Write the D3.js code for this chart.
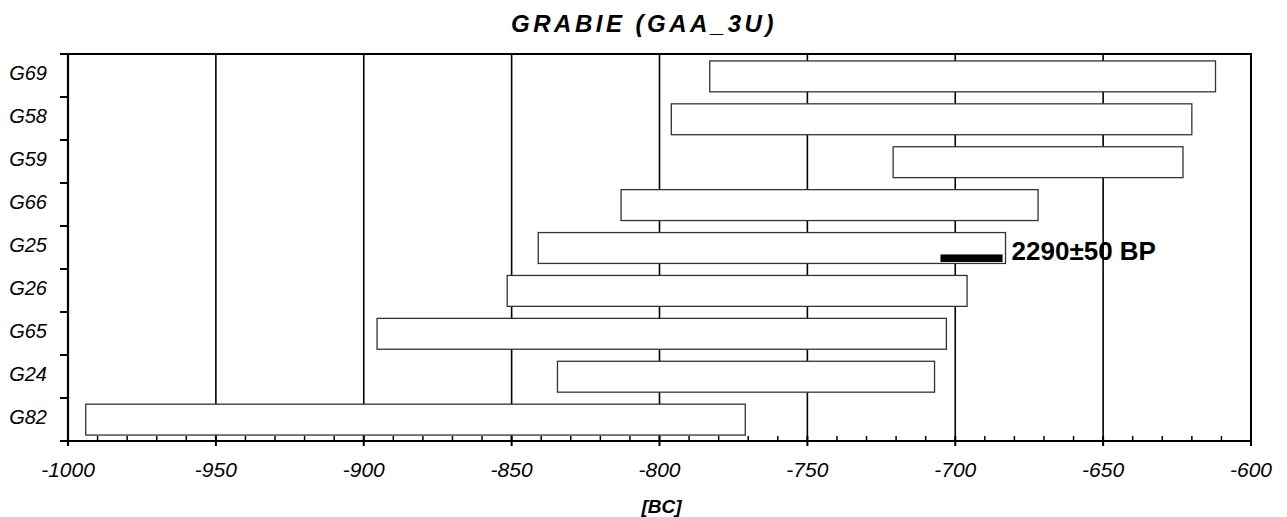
<!DOCTYPE html>
<html>
<head>
<meta charset="utf-8">
<script src="https://cdn.jsdelivr.net/npm/d3@7"></script>
<style>
  body { margin: 0; background: #fff; }
  text { font-family: Arial, "Liberation Sans", sans-serif; }
</style>
</head>
<body>
<div id="chart"></div>
<script>
// samples, top to bottom
var samples = ["G69", "G58", "G59", "G66", "G25", "G26", "G65", "G24", "G82"];
// calibrated ranges in years (BC as negative)
var rangeStart = [-783, -796, -721, -813, -841, -851.5, -895.5, -834.5, -994];
var rangeEnd   = [-612, -620, -623, -672, -683, -696, -703, -707, -771];
// the measured date marked on G25
var markSample = "G25";
var markRange = [-705, -684];
var markLabel = "2290\u00B150 BP";
var xTicks = [-1000, -950, -900, -850, -800, -750, -700, -650, -600];

var width = 1287, height = 517;
var margin = {top: 54, right: 36, bottom: 76, left: 68};

var svg = d3.select("#chart").append("svg")
    .attr("width", width)
    .attr("height", height);

var x = d3.scaleLinear()
    .domain([-1000, -600])
    .range([margin.left, width - margin.right]);

var yRow = d3.scaleBand()
    .domain(samples)
    .range([margin.top, height - margin.bottom])
    .padding(0);

var y = d3.scaleBand()
    .domain(samples)
    .range([margin.top, height - margin.bottom])
    .paddingInner(0.28)
    .paddingOuter(0.15);

var plotTop = margin.top, plotBottom = height - margin.bottom;

// vertical grid lines
svg.append("g")
    .selectAll("line")
    .data(xTicks.slice(1, -1))
    .enter().append("line")
    .attr("x1", function(d) { return x(d); })
    .attr("x2", function(d) { return x(d); })
    .attr("y1", plotTop)
    .attr("y2", plotBottom)
    .attr("stroke", "#000")
    .attr("stroke-width", 1.6);

// frame top + right
svg.append("line")
    .attr("x1", x(-1000) - 8).attr("x2", x(-600) + 1)
    .attr("y1", plotTop).attr("y2", plotTop)
    .attr("stroke", "#000").attr("stroke-width", 2);
svg.append("line")
    .attr("x1", x(-600)).attr("x2", x(-600))
    .attr("y1", plotTop).attr("y2", plotBottom)
    .attr("stroke", "#000").attr("stroke-width", 2);

// range bars
var rows = samples.map(function(s, i) { return {name: s, start: rangeStart[i], end: rangeEnd[i]}; });

svg.append("g")
    .selectAll("rect")
    .data(rows)
    .enter().append("rect")
    .attr("x", function(d) { return x(d.start); })
    .attr("width", function(d) { return x(d.end) - x(d.start); })
    .attr("y", function(d) { return y(d.name) + 0.5; })
    .attr("height", y.bandwidth())
    .attr("fill", "#fff")
    .attr("stroke", "#333")
    .attr("stroke-width", 1.3);

// measured date bar
svg.append("rect")
    .attr("x", x(markRange[0]))
    .attr("width", x(markRange[1]) - x(markRange[0]))
    .attr("y", y(markSample) + y.bandwidth() - 8.5)
    .attr("height", 7.5)
    .attr("fill", "#000");

svg.append("text")
    .attr("x", x(markRange[1]) + 9)
    .attr("y", y(markSample) + y.bandwidth() - 3)
    .attr("font-size", 26)
    .attr("font-weight", "bold")
    .attr("fill", "#000")
    .text(markLabel);

// bottom axis: major ticks cross the line, minor ticks point inside
var minor = d3.range(-1000, -599, 10).filter(function(d) { return d % 50 !== 0; });
svg.append("g")
    .selectAll("line")
    .data(minor)
    .enter().append("line")
    .attr("x1", function(d) { return x(d); })
    .attr("x2", function(d) { return x(d); })
    .attr("y1", plotBottom - 5)
    .attr("y2", plotBottom)
    .attr("stroke", "#000")
    .attr("stroke-width", 1.5);

svg.append("g")
    .selectAll("line")
    .data(xTicks)
    .enter().append("line")
    .attr("x1", function(d) { return x(d); })
    .attr("x2", function(d) { return x(d); })
    .attr("y1", plotBottom - 5)
    .attr("y2", plotBottom + 5)
    .attr("stroke", "#000")
    .attr("stroke-width", 2);

svg.append("line")
    .attr("x1", x(-1000)).attr("x2", x(-600))
    .attr("y1", plotBottom).attr("y2", plotBottom)
    .attr("stroke", "#000").attr("stroke-width", 2.2);

svg.append("g")
    .selectAll("text")
    .data(xTicks)
    .enter().append("text")
    .attr("x", function(d) { return x(d); })
    .attr("y", plotBottom + 36)
    .attr("text-anchor", "middle")
    .attr("font-size", 21)
    .attr("font-style", "italic")
    .text(function(d) { return d; });

// left axis: ticks on row boundaries
var bounds = samples.map(function(s) { return yRow(s); }).concat([plotBottom]);
svg.append("g")
    .selectAll("line")
    .data(bounds)
    .enter().append("line")
    .attr("x1", x(-1000) - 8)
    .attr("x2", x(-1000))
    .attr("y1", function(d) { return d; })
    .attr("y2", function(d) { return d; })
    .attr("stroke", "#000")
    .attr("stroke-width", 2);

svg.append("line")
    .attr("x1", x(-1000)).attr("x2", x(-1000))
    .attr("y1", plotTop).attr("y2", plotBottom + 5)
    .attr("stroke", "#000").attr("stroke-width", 2.2);

svg.append("g")
    .selectAll("text")
    .data(samples)
    .enter().append("text")
    .attr("x", x(-1000) - 21)
    .attr("y", function(d) { return yRow(d) + yRow.bandwidth() / 2 + 4; })
    .attr("text-anchor", "end")
    .attr("font-size", 20)
    .attr("font-style", "italic")
    .text(function(d) { return d; });

// titles
svg.append("text")
    .attr("x", 644)
    .attr("y", 32)
    .attr("text-anchor", "middle")
    .attr("font-size", 24)
    .attr("font-weight", "bold")
    .attr("font-style", "italic")
    .attr("letter-spacing", 3.5)
    .text("GRABIE (GAA_3U)");

svg.append("text")
    .attr("x", (x(-1000) + x(-600)) / 2 + 2)
    .attr("y", 513)
    .attr("text-anchor", "middle")
    .attr("font-size", 19)
    .attr("font-weight", "bold")
    .attr("font-style", "italic")
    .text("[BC]");
</script>
</body>
</html>
